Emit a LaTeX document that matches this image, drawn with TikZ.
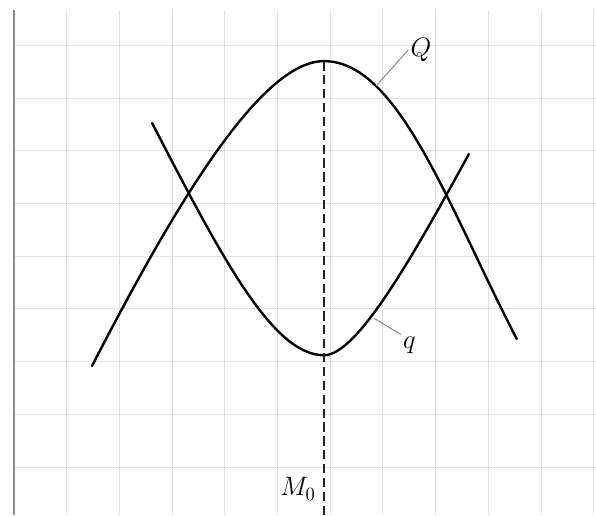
\documentclass[tikz,border=0pt]{standalone}
\definecolor{GridGray}{RGB}{226,226,226}
\definecolor{AxisGray}{RGB}{140,140,140}
\definecolor{LeaderGray}{RGB}{130,130,130}
\tikzset{
  gridline/.style={GridGray,line width=0.5pt},
  axisline/.style={AxisGray,line width=1pt},
  curve/.style={black,line width=1.3pt,line cap=round,line join=round},
  median/.style={black!85,line width=0.8pt,dash pattern=on 5pt off 2.5pt},
  leader/.style={LeaderGray,line width=0.5pt},
  tag/.style={font=\Large,inner sep=1pt}
}

\begin{document}
\begin{tikzpicture}[x=1cm,y=0.964cm]
      \useasboundingbox (-0.266,-0.945) rectangle (11.043,9.193);
      % background grid
      \draw[gridline] (0,-0.945) grid (11.043,9);
      \draw[axisline] (0,-0.945) -- (0,9);
      % the two curves
      \coordinate (Qtop) at (5.88,7.99);
      \coordinate (qbot) at (5.88,2.20);
      \draw[curve] (1.48,1.99) .. controls (3.1,5.25) and (4.7,7.99) .. (Qtop)
        .. controls (7.3,7.99) and (8.24,5.12) .. (9.54,2.52);
      \draw[curve] (2.62,6.77) .. controls (3.92,4.17) and (4.9,2.2) .. (qbot)
        .. controls (6.5,2.2) and (7.53,4.07) .. (8.63,6.16);
      \coordinate (Mfoot) at (5.88,-0.945);
      \coordinate (Qfoot) at (6.87,7.50);
      \coordinate (qfoot) at (6.83,2.93);
      % labels
      \node[tag] (Qlabel) at (7.72,8.21) {$Q$};
      \node[tag] (qlabel) at (7.50,2.40) {$q$};
      \node[tag] (Mlabel) at (5.39,-0.43) {$M_0$};
      \draw[median] (Mfoot) -- (Qtop);
      \draw[leader] (Qfoot) -- (Qlabel.west);
      \draw[leader] (qfoot) -- (qlabel.north west);
    \end{tikzpicture}
\end{document}
